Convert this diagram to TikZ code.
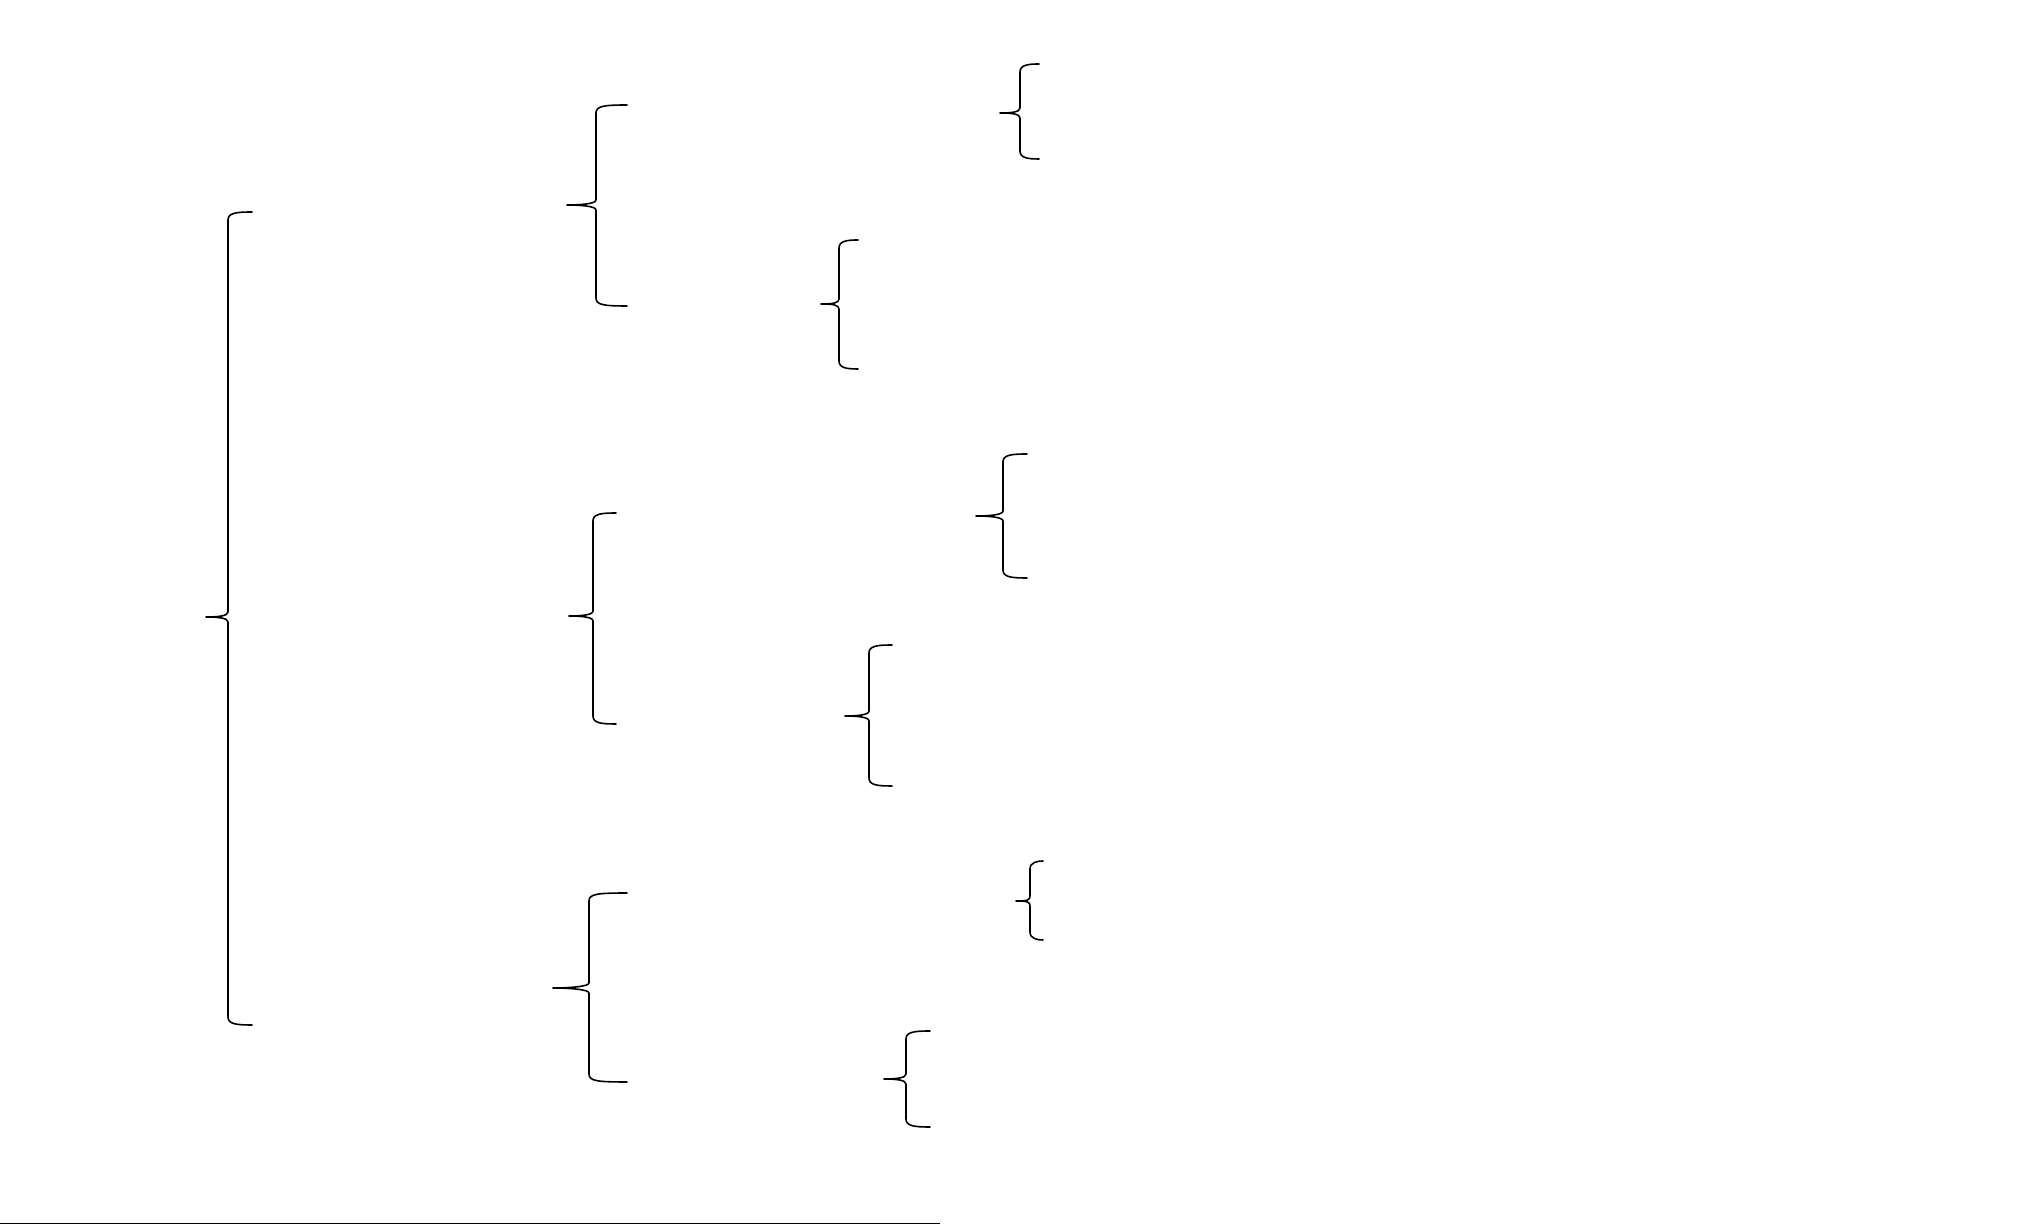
\documentclass[tikz,border=0pt]{standalone}
\usepackage{tikz}

\begin{document}
\begin{tikzpicture}[x=0.01cm, y=-0.01cm,
      br/.style={line width=0.45pt, line join=round, line cap=round}]

  \useasboundingbox (0,0) rectangle (2017,1225);

  % braces: stem x / top / bottom / tip x / tip y / arm end
  \foreach \xs/\ya/\yb/\xt/\yt/\xe in {
      228/212/1025/206/617/252,
      596/105/306/567/205/627,
      593/513/724/569/616/616,
      589/893/1082/553/988/627,
      1020/64/159/1000/113/1039,
      839/240/369/821/304/858,
      1003/454/578/976/516/1027,
      869/645/786/845/716/892,
      1030/861/940/1016/901/1043,
      906/1031/1127/884/1079/930}
    \draw[br] (\xe,\ya) .. controls (\xs+8,\ya) and (\xs,\ya+1) .. (\xs,\ya+8)
      -- (\xs,\yt-5) .. controls (\xs,\yt-1) and (\xt+12,\yt) .. (\xt,\yt)
      .. controls (\xt+12,\yt) and (\xs,\yt+1) .. (\xs,\yt+5)
      -- (\xs,\yb-8) .. controls (\xs,\yb-1) and (\xs+8,\yb) .. (\xe,\yb);

  % rule at the foot
  \coordinate (rule0) at (0,1223.5);
  \coordinate (rule1) at (940,1223.5);
  \draw[br, line width=0.5pt, line cap=butt] (rule0) -- (rule1);

\end{tikzpicture}
\end{document}
